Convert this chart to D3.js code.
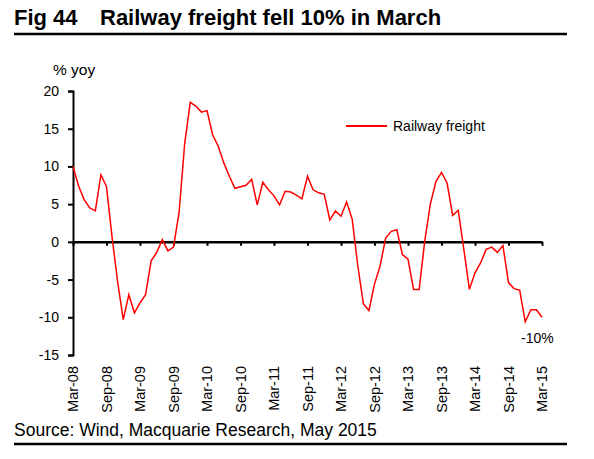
<!DOCTYPE html>
<html>
<head>
<meta charset="utf-8">
<script src="https://cdn.jsdelivr.net/npm/d3@7"></script>
<style>
  body { margin: 0; background: #fff; }
  text { font-family: Arial, "Liberation Sans", sans-serif; fill: #000; }
</style>
</head>
<body>
<div id="chart"></div>
<script>
// monthly % yoy, Mar-08 .. Mar-15
var railFreight = [
  10.0, 7.4, 5.6, 4.5, 4.1, 8.9, 7.3, 0.6, -5.3, -10.3,
  -7.0, -9.4, -8.1, -7.0, -2.5, -1.4, 0.3, -1.2, -0.7, 3.9,
  13.0, 18.5, 18.0, 17.2, 17.4, 14.2, 12.7, 10.5, 8.7, 7.1,
  7.3, 7.5, 8.3, 4.9, 7.9, 6.9, 6.1, 4.9, 6.7, 6.6,
  6.2, 5.7, 8.7, 6.9, 6.5, 6.3, 2.9, 4.1, 3.4, 5.3,
  3.0, -3.1, -8.2, -9.1, -5.6, -3.2, 0.5, 1.4, 1.6, -1.7,
  -2.3, -6.3, -6.3, 0.1, 5.0, 8.0, 9.2, 7.8, 3.5, 4.2,
  -1.0, -6.3, -4.1, -2.8, -1.0, -0.7, -1.4, -0.5, -5.4, -6.2,
  -6.4, -10.6, -9.0, -9.0, -10.0
];
var xTickLabels = ["Mar-08", "Sep-08", "Mar-09", "Sep-09", "Mar-10", "Sep-10", "Mar-11",
  "Sep-11", "Mar-12", "Sep-12", "Mar-13", "Sep-13", "Mar-14", "Sep-14", "Mar-15"];
var yTicks = [20, 15, 10, 5, 0, -5, -10, -15];

var width = 594, height = 459;
var plotLeft = 73, plotRight = 542, plotTop = 91, plotBottom = 355;

var svg = d3.select("#chart").append("svg")
  .attr("width", width)
  .attr("height", height);

/* Scales */
var x = d3.scaleLinear()
  .domain([0, railFreight.length - 1])
  .range([plotLeft, plotRight]);

var y = d3.scaleLinear()
  .domain([-15, 20])
  .range([plotBottom, plotTop]);

/* Title + rules */
svg.append("text")
  .attr("x", 14).attr("y", 25)
  .style("font-size", "22px").style("font-weight", "bold")
  .text("Fig 44");
svg.append("text")
  .attr("x", 100).attr("y", 25)
  .style("font-size", "22px").style("font-weight", "bold")
  .text("Railway freight fell 10% in March");

svg.append("line")
  .attr("x1", 14).attr("x2", 567).attr("y1", 34).attr("y2", 34)
  .attr("stroke", "#000").attr("stroke-width", 2.5);

svg.append("line")
  .attr("x1", 14).attr("x2", 567).attr("y1", 444).attr("y2", 444)
  .attr("stroke", "#000").attr("stroke-width", 2.5);

svg.append("text")
  .attr("x", 14).attr("y", 436)
  .style("font-size", "17.5px")
  .text("Source: Wind, Macquarie Research, May 2015");

svg.append("text")
  .attr("x", 53).attr("y", 75)
  .style("font-size", "15.5px")
  .text("% yoy");

/* Y axis */
var yAxis = d3.axisLeft(y).tickValues(yTicks).tickSize(5).tickPadding(9)
  .tickFormat(d => String(d));
var gy = svg.append("g")
  .attr("transform", `translate(${plotLeft},0)`)
  .call(yAxis);
gy.select(".domain").attr("stroke-width", 2);
gy.selectAll(".tick line").attr("stroke-width", 2);
gy.selectAll(".tick text")
  .style("font-size", "14px")
  .style("font-family", "Arial, 'Liberation Sans', sans-serif");

/* X axis along zero */
var tickIdx = xTickLabels.map((d, i) => i * 6);
var xAxis = d3.axisBottom(x).tickValues(tickIdx).tickSize(4).tickSizeOuter(0).tickFormat("");
var gx = svg.append("g")
  .attr("transform", `translate(0,${y(0)})`)
  .call(xAxis);
gx.select(".domain").attr("stroke-width", 2.5);
gx.selectAll(".tick line").attr("stroke-width", 2);

svg.append("g")
  .selectAll("text")
  .data(xTickLabels)
  .enter()
  .append("text")
  .attr("transform", (d, i) => `translate(${x(tickIdx[i])},366) rotate(-90)`)
  .attr("text-anchor", "end")
  .attr("dy", "0.35em")
  .style("font-size", "14.5px")
  .text(d => d);

/* Line */
var line = d3.line()
  .x((d, i) => x(i))
  .y(d => y(d));

svg.append("path")
  .datum(railFreight)
  .attr("fill", "none")
  .attr("stroke", "#ff0000")
  .attr("stroke-width", 1.5)
  .attr("stroke-linejoin", "miter")
  .attr("d", line);

/* Legend */
svg.append("line")
  .attr("x1", 346).attr("x2", 387).attr("y1", 126).attr("y2", 126)
  .attr("stroke", "#ff0000").attr("stroke-width", 2);
svg.append("text")
  .attr("x", 393).attr("y", 131)
  .style("font-size", "14px")
  .text("Railway freight");

/* Annotation */
svg.append("text")
  .attr("x", 521).attr("y", 343)
  .style("font-size", "14px")
  .text("-10%");
</script>
</body>
</html>
